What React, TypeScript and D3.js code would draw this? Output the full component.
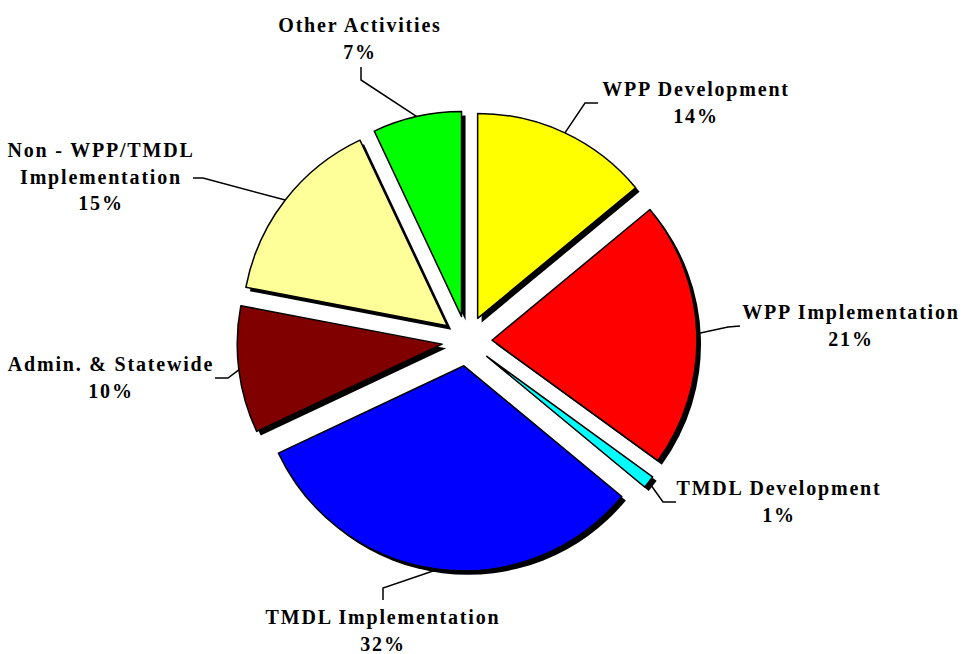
import React from 'react';
import * as d3 from 'd3';

// slice data, clockwise from 12 o'clock
const categories = [
  'WPP Development',
  'WPP Implementation',
  'TMDL Development',
  'TMDL Implementation',
  'Admin. & Statewide',
  'Non - WPP/TMDL Implementation',
  'Other Activities',
];
const percents = [14, 21, 1, 32, 10, 15, 7];
const colors = ['#ffff00', '#ff0000', '#00ffff', '#0000ff', '#800000', '#ffff99', '#00ff00'];

// how each label is broken into lines
const labelLines = [
  ['WPP Development'],
  ['WPP Implementation'],
  ['TMDL Development'],
  ['TMDL Implementation'],
  ['Admin. & Statewide'],
  ['Non - WPP/TMDL', 'Implementation'],
  ['Other Activities'],
];

// label layout: text centre + first baseline, leader elbow + end
const labelPos = [
  { x: 696, y: 96, elbow: [585, 103], end: [598, 103] },
  { x: 851, y: 319, elbow: [728, 327], end: [740, 326] },
  { x: 779, y: 495, elbow: [663, 502], end: [676, 502] },
  { x: 383, y: 624, elbow: [383, 588], end: [383, 600] },
  { x: 111, y: 371, elbow: [228, 378], end: [215, 378] },
  { x: 101, y: 157, elbow: [203, 178], end: [193, 178] },
  { x: 360, y: 32, elbow: [361, 80], end: [361, 67] },
];

const W = 966;
const H = 654;
const cx = 467;
const cy = 341;
const R = 205;
const explode = 25;
const lineH = 26.5;

export default function App() {
  const pie = d3.pie<number>().sort(null).value(d => d);
  const arcs = pie(percents);
  const arc = d3.arc<d3.PieArcDatum<number>>().innerRadius(0).outerRadius(R);

  return (
    <svg width={W} height={H} style={{ position: 'absolute', left: 0, top: 0, background: '#fff' }}>
      <g transform={`translate(${cx},${cy})`}>
        {/* drop shadows */}
        {arcs.map((a, i) => {
          const mid = (a.startAngle + a.endAngle) / 2;
          const ox = Math.sin(mid) * explode;
          const oy = -Math.cos(mid) * explode;
          return (
            <path key={'s' + i} d={arc(a) || ''} transform={`translate(${ox + 4},${oy + 4})`} fill="#000" />
          );
        })}
        {arcs.map((a, i) => {
          const mid = (a.startAngle + a.endAngle) / 2;
          const ox = Math.sin(mid) * explode;
          const oy = -Math.cos(mid) * explode;
          return (
            <path
              key={'p' + i}
              d={arc(a) || ''}
              transform={`translate(${ox},${oy})`}
              fill={colors[i]}
              stroke="#000"
              strokeWidth={1.5}
              strokeLinejoin="round"
            />
          );
        })}
      </g>
      {arcs.map((a, i) => {
        const mid = (a.startAngle + a.endAngle) / 2;
        const sx = cx + Math.sin(mid) * (explode + R);
        const sy = cy - Math.cos(mid) * (explode + R);
        const p = labelPos[i];
        return (
          <polyline
            key={'l' + i}
            points={`${sx},${sy} ${p.elbow[0]},${p.elbow[1]} ${p.end[0]},${p.end[1]}`}
            fill="none"
            stroke="#000"
            strokeWidth={1.5}
          />
        );
      })}
      {categories.map((c, i) => {
        const p = labelPos[i];
        const lines = [...labelLines[i], `${percents[i]}%`];
        return (
          <text
            key={'t' + i}
            x={p.x}
            y={p.y}
            textAnchor="middle"
            fill="#000"
            fontFamily="Liberation Serif"
            fontWeight="bold"
            fontSize={20}
            letterSpacing={1.8}
          >
            {lines.map((ln, j) => (
              <tspan key={j} x={p.x} y={p.y + j * lineH}>
                {ln}
              </tspan>
            ))}
          </text>
        );
      })}
    </svg>
  );
}
